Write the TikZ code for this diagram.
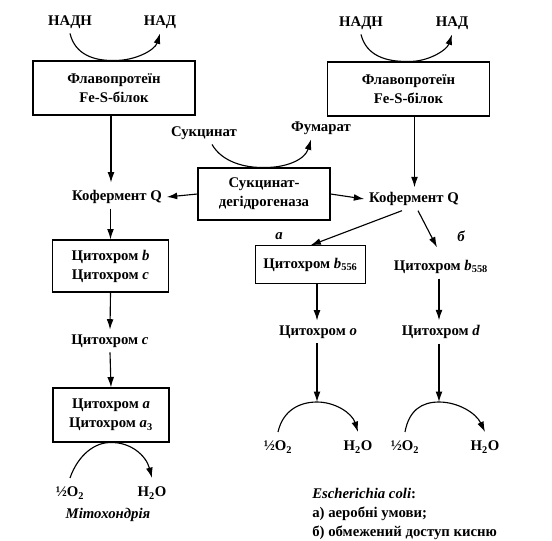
\documentclass[tikz,border=0pt]{standalone}
\usepackage{fontspec}
\setmainfont{Liberation Serif}
\usetikzlibrary{arrows.meta}

\begin{document}
\begin{tikzpicture}[x=0.025cm, y=-0.025cm,
    font=\fontsize{10.5}{13.5}\selectfont\bfseries,
    box/.style={draw, thick, align=center, inner sep=0pt},
    arr/.style={-{Latex[length=2.6mm,width=1.7mm]}, line width=0.8pt}]
  \useasboundingbox (0,0) rectangle (552,540);

  % mitochondria
  \node (nadh1) at (70,22) {НАДН};
  \node (nad1) at (160,22) {НАД};
  \node[box, minimum width=4.05cm, minimum height=1.35cm] (fp1) at (114,88) {Флавопротеїн\\Fe-S-білок};
  \node (q1) at (117,197) {Кофермент Q};
  \node[box, minimum width=2.9cm, minimum height=1.3cm] (cb1) at (110.5,266) {Цитохром \textit{b}\\Цитохром \textit{c}};
  \node (c1) at (110,341) {Цитохром \textit{c}};
  \node[box, minimum width=2.9cm, minimum height=1.35cm] (ca) at (111,415) {Цитохром \textit{a}\\Цитохром \textit{a}\textsubscript{3}};
  \node (o2a) at (70,493) {½O\textsubscript{2}};
  \node (h2oa) at (152,493) {H\textsubscript{2}O};
  \node[font=\fontsize{10.5}{13.5}\selectfont\bfseries\itshape] (mito) at (108,515) {Мітохондрія};

  % succinate
  \node (succ) at (204,133) {Сукцинат};
  \node (fum) at (321,128) {Фумарат};
  \node[box, minimum width=3.3cm, minimum height=1.3cm] (sdh) at (264,194) {Сукцинат-\\дегідрогеназа};

  % E. coli
  \node (nadh2) at (361,23) {НАДН};
  \node (nad2) at (452,23) {НАД};
  \node[box, minimum width=4.05cm, minimum height=1.35cm] (fp2) at (408.5,89) {Флавопротеїн\\Fe-S-білок};
  \node (q2) at (414,199) {Кофермент Q};
  \node[font=\fontsize{10.5}{13.5}\selectfont\bfseries\itshape] (la) at (279,236) {а};
  \node[font=\fontsize{10.5}{13.5}\selectfont\bfseries\itshape] (lb) at (461,236) {б};
  \node[box, minimum width=2.75cm, minimum height=0.93cm] (b556) at (310.5,264.5) {Цитохром \textit{b}\textsubscript{556}};
  \node (b558) at (441,267) {Цитохром \textit{b}\textsubscript{558}};
  \node (co) at (318,332) {Цитохром \textit{o}};
  \node (cd) at (441,332) {Цитохром \textit{d}};
  \coordinate (p1) at (317,402);
  \coordinate (p2) at (439,402);
  \node (o2b) at (278,447) {½O\textsubscript{2}};
  \node (h2ob) at (358,447) {H\textsubscript{2}O};
  \node (o2c) at (405,447) {½O\textsubscript{2}};
  \node (h2oc) at (485,447) {H\textsubscript{2}O};
  \node[anchor=north west, align=left, inner sep=0pt] (ecoli) at (312,488)
    {\textit{Escherichia coli}:\\а) аеробні умови;\\б) обмежений доступ кисню};

  % arrows
  \draw[arr] (nadh1.south) .. controls (75,55) and (95,61) .. (fp1.north)
    .. controls (135,61) and (155,50) .. (nad1.south);
  \draw[arr] (nadh2.south) .. controls (366,55) and (385,62) .. (fp2.north)
    .. controls (428,62) and (447,50) .. (nad2.south);
  \draw[arr] ([xshift=2mm]succ.south) .. controls (222,162) and (245,168) .. (sdh.north)
    .. controls (285,168) and (305,160) .. ([xshift=-2.5mm]fum.south);
  \draw[arr] (fp1.south -| q1.north) ++(-6,0) -- ++(0,67);
  \draw[arr] (q1.south -| cb1.north) -- (cb1.north);
  \draw[arr] (cb1.south) -- (c1.north);
  \draw[arr] (c1.south) -- (ca.north);
  \draw[arr] (sdh.west) -- (q1.east);
  \draw[arr] (sdh.east) -- (q2.west);
  \draw[arr] (fp2.south) ++(6,0) coordinate (f2) -- (f2 |- q2.north);
  \draw[arr] ([xshift=-3mm]q2.south) -- (b556.north);
  \draw[arr] ([xshift=1mm]q2.south) -- ([xshift=-1mm,yshift=2mm]b558.north);
  \draw[arr] (b556.south -| co.north) ++(-1,0) coordinate (b5) -- (b5 |- co.north);
  \draw[arr] (b558.south -| p2) -- (p2 |- cd.north);
  \draw[arr] (co.south -| p1) -- (p1);
  \draw[arr] (cd.south -| p2) -- (p2);
  \draw[arr] ([yshift=1mm]o2a.north) .. controls (78,455) and (95,442) .. (ca.south)
    .. controls (130,442) and (146,455) .. ([yshift=1mm]h2oa.north);
  \draw[arr] ([yshift=1mm]o2b.north) .. controls (283,410) and (300,402) .. (p1)
    .. controls (335,402) and (352,413) .. ([yshift=1mm]h2ob.north);
  \draw[arr] ([yshift=1mm]o2c.north) .. controls (409,410) and (422,402) .. (p2)
    .. controls (458,402) and (476,413) .. ([yshift=1mm]h2oc.north);
\end{tikzpicture}
\end{document}
